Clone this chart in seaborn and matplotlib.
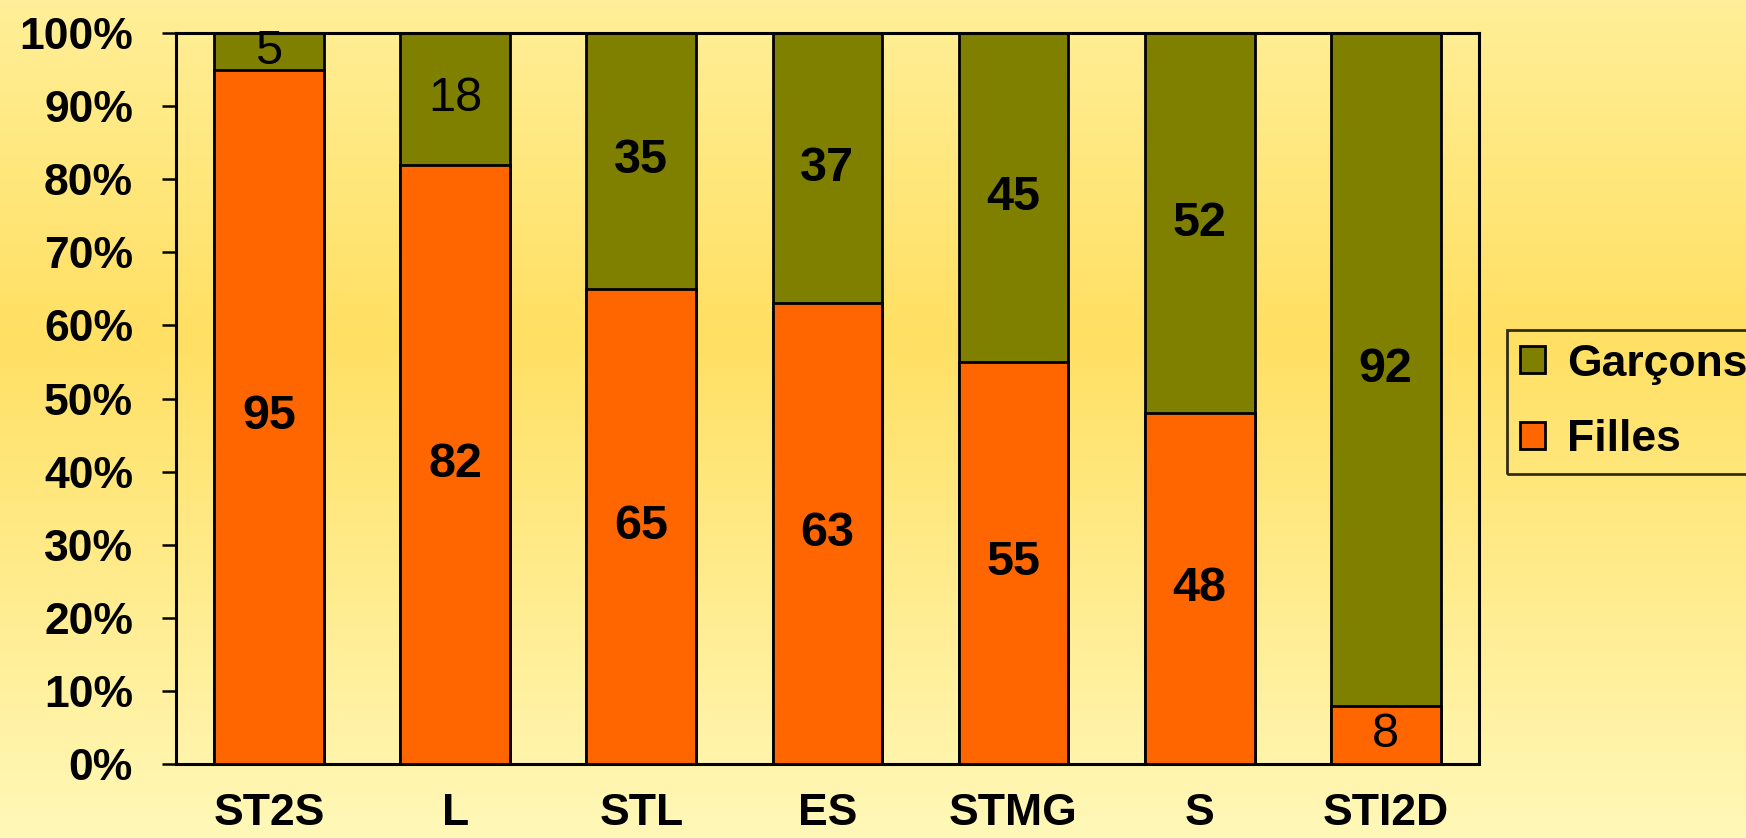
import numpy as np
import pandas as pd
import matplotlib
matplotlib.use("Agg")
import matplotlib.pyplot as plt
import matplotlib.patches as mpatches
from matplotlib.colors import LinearSegmentedColormap
import seaborn as sns

# data (percentages per filiere)
filieres = ['ST2S', 'L', 'STL', 'ES', 'STMG', 'S', 'STI2D']
filles = [95, 82, 65, 63, 55, 48, 8]
garcons = [5, 18, 35, 37, 45, 52, 92]
y_ticks = list(range(0, 101, 10))

ORANGE = '#FF6600'
OLIVE = '#808000'

sns.set_style("white")
plt.rcParams['font.family'] = ['Liberation Sans', 'DejaVu Sans']
plt.rcParams['text.color'] = 'black'
plt.rcParams['xtick.color'] = 'black'
plt.rcParams['ytick.color'] = 'black'
plt.rcParams['axes.labelcolor'] = 'black'

df = pd.DataFrame({'filiere': filieres, 'Filles': filles, 'Garcons': garcons})
df['total'] = df['Filles'] + df['Garcons']

fig = plt.figure(figsize=(17.46, 8.38), dpi=100)

# vertical yellow gradient behind everything
bg = fig.add_axes([0, 0, 1, 1], zorder=-10)
cmap = LinearSegmentedColormap.from_list(
    'bg', [(0.0, '#FFEF98'), (0.40, '#FFE063'), (1.0, '#FFF8B8')])
grad = np.linspace(0, 1, 256).reshape(-1, 1)
bg.imshow(grad, aspect='auto', cmap=cmap, extent=[0, 1, 0, 1], origin='upper')
bg.axis('off')

ax = fig.add_axes([0.1008, 0.0883, 0.7462, 0.8723])
ax.patch.set_alpha(0)

bar_w = 0.59
sns.barplot(data=df, x='filiere', y='total', color=OLIVE, width=bar_w,
            edgecolor='black', linewidth=2, saturation=1, ax=ax)
sns.barplot(data=df, x='filiere', y='Filles', color=ORANGE, width=bar_w,
            edgecolor='black', linewidth=2, saturation=1, ax=ax)

# value labels centred in each segment (small ones are not bold in the original)
for i, (f, g) in enumerate(zip(filles, garcons)):
    ax.text(i, f / 2, str(f), ha='center', va='center', fontsize=35,
            fontweight='normal' if f < 20 else 'bold')
    ax.text(i, f + g / 2, str(g), ha='center', va='center', fontsize=35,
            fontweight='normal' if g < 20 else 'bold')

ax.set_xlim(-0.5, len(filieres) - 0.5)
ax.set_ylim(0, 100)
ax.set_yticks(y_ticks)
ax.set_yticklabels([f'{t}%' for t in y_ticks], fontsize=32, fontweight='bold')
ax.set_xticks(range(len(filieres)))
ax.set_xticklabels(filieres, fontsize=32, fontweight='bold')
ax.set_xticks(np.arange(-0.5, len(filieres), 1), minor=True)
ax.tick_params(axis='x', which='major', length=0, pad=21)
ax.tick_params(axis='x', which='minor', length=10, width=1.8, direction='out')
ax.tick_params(axis='y', length=10, width=1.8, direction='out', pad=21, left=True)
ax.set_xlabel('')
ax.set_ylabel('')
for sp in ax.spines.values():
    sp.set_visible(True)
    sp.set_color('black')
    sp.set_linewidth(2.2)

handles = [mpatches.Patch(facecolor=OLIVE, edgecolor='black', linewidth=2, label='Garçons'),
           mpatches.Patch(facecolor=ORANGE, edgecolor='black', linewidth=2, label='Filles')]
leg = fig.legend(handles=handles, loc='upper left', bbox_to_anchor=(0.863, 0.606),
                 prop={'size': 32, 'weight': 'bold'}, frameon=True, fancybox=False,
                 handlelength=0.55, handleheight=0.55, handletextpad=0.5,
                 labelspacing=0.78, borderpad=0.3, borderaxespad=0)
leg.get_frame().set_edgecolor('black')
leg.get_frame().set_linewidth(2)
leg.get_frame().set_facecolor('none')

fig.savefig('out.png', dpi=100)
